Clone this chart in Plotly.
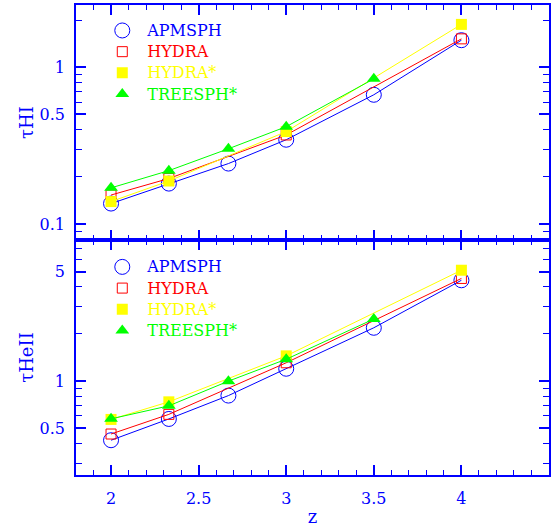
import numpy as np
import plotly.graph_objects as go
from plotly.subplots import make_subplots

# redshift sampling of each code
z_apm = [2.0, 2.33, 2.67, 3.0, 3.5, 4.0]
z_hydra = [2.0, 2.33, 3.0, 4.0]
z_tree = [2.0, 2.33, 2.67, 3.0, 3.5]

# effective optical depth, H I
tauHI_apmsph = [0.135, 0.181, 0.243, 0.345, 0.668, 1.49]
tauHI_hydra = [0.153, 0.195, 0.370, 1.52]
tauHI_hydra_star = [0.139, 0.188, 0.389, 1.88]
tauHI_treesph_star = [0.170, 0.219, 0.302, 0.418, 0.844]

# effective optical depth, He II
tauHeII_apmsph = [0.42, 0.574, 0.809, 1.20, 2.19, 4.40]
tauHeII_hydra = [0.46, 0.614, 1.31, 4.52]
tauHeII_hydra_star = [0.57, 0.738, 1.45, 5.10]
tauHeII_treesph_star = [0.575, 0.696, 1.00, 1.38, 2.49]

BLUE = "#0000ff"
RED = "#ff0000"
YELLOW = "#ffff00"
GREEN = "#00ff00"
FONT = "DejaVu Serif"

series = [
    ("APMSPH", BLUE, dict(symbol="circle-open", size=15, line=dict(width=1, color=BLUE))),
    ("HYDRA", RED, dict(symbol="square-open", size=10, line=dict(width=1, color=RED))),
    ("HYDRA*", YELLOW, dict(symbol="square", size=11, line=dict(width=0))),
    ("TREESPH*", GREEN, dict(symbol="triangle-up", size=12, line=dict(width=0))),
]

panels = [
    (1, "legend", [(z_apm, tauHI_apmsph), (z_hydra, tauHI_hydra),
                   (z_hydra, tauHI_hydra_star), (z_tree, tauHI_treesph_star)]),
    (2, "legend2", [(z_apm, tauHeII_apmsph), (z_hydra, tauHeII_hydra),
                    (z_hydra, tauHeII_hydra_star), (z_tree, tauHeII_treesph_star)]),
]

fig = make_subplots(rows=2, cols=1, shared_xaxes=True, vertical_spacing=0)

for row, leg, data in panels:
    for (name, color, marker), (zs, tau) in zip(series, data):
        fig.add_trace(go.Scatter(x=zs, y=tau, mode="lines",
                                 line=dict(color=color, width=1),
                                 showlegend=False, hoverinfo="skip"),
                      row=row, col=1)
        fig.add_trace(go.Scatter(x=zs, y=tau, mode="markers",
                                 marker=dict(color=color, **marker),
                                 name=(f"<span style='color:{color};font-size:16px'>"
                                       f"{name}</span>"),
                                 legend=leg),
                      row=row, col=1)

axis_common = dict(
    showline=True, linecolor=BLUE, linewidth=1.5, mirror="allticks",
    ticks="inside", tickcolor=BLUE, tickwidth=1.5, ticklen=10,
    showgrid=False, zeroline=False,
    tickfont=dict(family=FONT, size=16, color=BLUE),
)

xmin, xmax = 1.8, 4.5
for row in (1, 2):
    fig.update_xaxes(range=[xmin, xmax], tick0=2, dtick=0.5,
                     minor=dict(dtick=0.1, tick0=2, ticks="inside", ticklen=5,
                                tickcolor=BLUE, tickwidth=1, showgrid=False),
                     ticklabelstandoff=8, row=row, col=1, **axis_common)
fig.update_xaxes(showticklabels=False, row=1, col=1)
fig.update_xaxes(title=dict(text="z", font=dict(family=FONT, size=18, color=BLUE),
                            standoff=5), row=2, col=1)

hi_minor = [0.08, 0.09, 0.2, 0.3, 0.4, 0.6, 0.7, 0.8, 0.9, 2]
heii_minor = [0.3, 0.4, 0.6, 0.7, 0.8, 0.9, 2, 3, 4, 6, 7, 8]

fig.update_yaxes(type="log", range=[np.log10(0.079), np.log10(2.5)],
                 tickmode="array", tickvals=[0.1, 0.5, 1], ticktext=["0.1", "0.5", "1"],
                 minor=dict(tickvals=hi_minor, ticks="inside", ticklen=6,
                            tickcolor=BLUE, tickwidth=1, showgrid=False),
                 title=dict(text="τHI", font=dict(family=FONT, size=18, color=BLUE),
                            standoff=1),
                 ticklabelstandoff=6, row=1, col=1, **axis_common)
fig.update_yaxes(type="log", range=[np.log10(0.252), np.log10(7.95)],
                 tickmode="array", tickvals=[0.5, 1, 5], ticktext=["0.5", "1", "5"],
                 minor=dict(tickvals=heii_minor, ticks="inside", ticklen=6,
                            tickcolor=BLUE, tickwidth=1, showgrid=False),
                 title=dict(text="τHeII", font=dict(family=FONT, size=18, color=BLUE),
                            standoff=1),
                 ticklabelstandoff=6, row=2, col=1, **axis_common)

legend_style = dict(xref="paper", yref="paper", xanchor="left", yanchor="top",
                    bgcolor="rgba(0,0,0,0)", borderwidth=0,
                    font=dict(family=FONT, size=14), tracegroupgap=0,
                    itemsizing="trace", itemwidth=40)
fig.update_layout(
    width=552, height=527,
    margin=dict(l=76, r=1, t=5, b=46),
    paper_bgcolor="white", plot_bgcolor="white",
    legend=dict(x=0.045, y=0.979, **legend_style),
    legend2=dict(x=0.045, y=0.476, **legend_style),
)

fig.write_html("out.html")
